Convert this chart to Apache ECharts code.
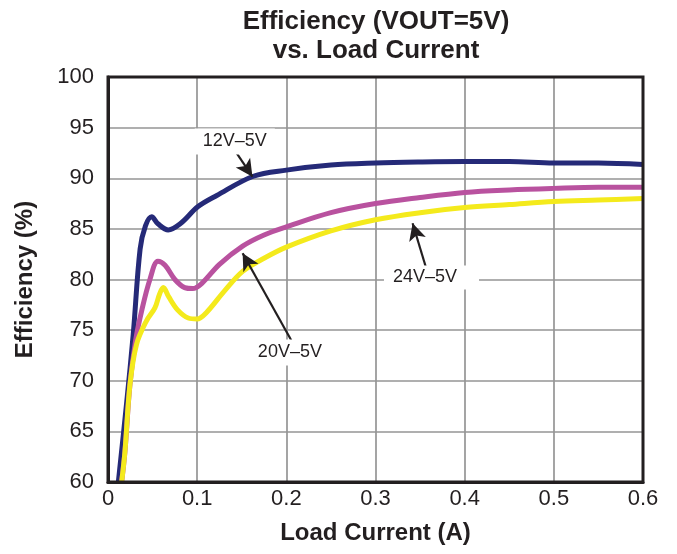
<!DOCTYPE html>
<html>
<head>
<meta charset="utf-8">
<script src="https://cdn.jsdelivr.net/npm/echarts@6/dist/echarts.min.js"></script>
<style>
  html, body { margin: 0; padding: 0; background: #ffffff; }
  #chart { width: 677px; height: 554px; }
</style>
</head>
<body>
<div id="chart"></div>
<script>
// load current (A) / efficiency (%)
const current12 = [0.0116, 0.021, 0.0283, 0.036, 0.042, 0.049, 0.056, 0.0675, 0.081, 0.101, 0.122, 0.163, 0.2, 0.25, 0.3, 0.35, 0.4, 0.45, 0.5, 0.55, 0.6];
const eff12 = [60, 67.9, 74.6, 83, 85.3, 86.2, 85.5, 84.9, 85.5, 87.2, 88.3, 90.2, 90.8, 91.3, 91.5, 91.6, 91.65, 91.65, 91.5, 91.5, 91.35];

const current20 = [0.0153, 0.019, 0.0246, 0.031, 0.038, 0.047, 0.056, 0.064, 0.075, 0.086, 0.095, 0.105, 0.125, 0.151, 0.175, 0.2, 0.25, 0.3, 0.35, 0.4, 0.45, 0.5, 0.55, 0.6];
const eff20 = [60, 63, 69.6, 74, 77, 80, 81.8, 81.4, 80, 79.2, 79.1, 79.6, 81.5, 83.3, 84.4, 85.2, 86.6, 87.5, 88.1, 88.6, 88.85, 89.0, 89.1, 89.1];

const current24 = [0.0153, 0.019, 0.0246, 0.032, 0.043, 0.0526, 0.058, 0.062, 0.068, 0.078, 0.09, 0.1, 0.11, 0.13, 0.151, 0.175, 0.2, 0.25, 0.3, 0.35, 0.4, 0.45, 0.5, 0.55, 0.6];
const eff24 = [60, 63, 69.6, 73.6, 75.9, 77.2, 78.6, 79.2, 78.3, 77, 76.2, 76.1, 76.7, 78.8, 80.8, 82.1, 83.2, 84.8, 85.9, 86.6, 87.1, 87.4, 87.7, 87.85, 88.0];

const xTicks = [0, 0.1, 0.2, 0.3, 0.4, 0.5, 0.6];
const yTicks = [60, 65, 70, 75, 80, 85, 90, 95, 100];

// annotation: label text, label position, arrow start, arrow tip (data units)
const notes = [
  { text: "12V\u20135V", at: [0.1422, 93.64], from: [0.1403, 92.99], to: [0.162, 90.16], pad: [4, 8, 4, 8] },
  { text: "20V\u20135V", at: [0.204, 72.8], from: [0.2055, 74.0], to: [0.151, 82.6], pad: [4, 8, 4, 8] },
  { text: "24V\u20135V", at: [0.3628, 80.2], from: [0.3566, 81.18], to: [0.3416, 85.55], pad: [3, 22, 3, 9] }
];

const FONT = "Liberation Sans";
const pairs = (xs, ys) => xs.map((x, i) => [x, ys[i]]);

const chart = echarts.init(document.getElementById("chart"));

const lineSeries = (name, xs, ys, color) => ({
  name,
  type: "line",
  data: pairs(xs, ys),
  smooth: 0.35,
  showSymbol: false,
  lineStyle: { color, width: 5 },
  z: 3
});

const option = {
  backgroundColor: "#ffffff",
  animation: false,
  title: {
    text: "Efficiency (VOUT=5V)\nvs. Load Current",
    left: 371,
    top: 2,
    textAlign: "center",
    textStyle: {
      fontFamily: FONT,
      fontSize: 26,
      fontWeight: "bold",
      color: "#231f20",
      lineHeight: 29
    }
  },
  grid: { left: 108, right: 34, top: 77, bottom: 72 },
  xAxis: {
    type: "value",
    min: 0,
    max: 0.6,
    interval: 0.1,
    name: "Load Current (A)",
    nameLocation: "middle",
    nameGap: 39,
    nameTextStyle: { fontFamily: FONT, fontSize: 24, fontWeight: "bold", color: "#231f20" },
    axisLine: { show: true, lineStyle: { color: "#231f20", width: 3 } },
    axisTick: { show: false },
    axisLabel: {
      fontFamily: FONT, fontSize: 22, color: "#231f20", margin: 6,
      formatter: v => xTicks.includes(+v.toFixed(1)) ? String(+v.toFixed(1)) : ""
    },
    splitLine: { show: true, lineStyle: { color: "#959595", width: 1.7 } }
  },
  yAxis: {
    type: "value",
    min: 60,
    max: 100,
    interval: 5,
    name: "Efficiency (%)",
    nameLocation: "middle",
    nameGap: 71,
    nameTextStyle: { fontFamily: FONT, fontSize: 24, fontWeight: "bold", color: "#231f20" },
    axisLine: { show: true, lineStyle: { color: "#231f20", width: 3 } },
    axisTick: { show: false },
    axisLabel: {
      fontFamily: FONT, fontSize: 22, color: "#231f20", margin: 14,
      formatter: v => yTicks.includes(v) ? String(v) : ""
    },
    splitLine: { show: true, lineStyle: { color: "#959595", width: 1.7 } }
  },
  series: [
    lineSeries("12V-5V", current12, eff12, "#252a78"),
    lineSeries("20V-5V", current20, eff20, "#b9529f"),
    lineSeries("24V-5V", current24, eff24, "#f4ea1c"),
    {
      // arrows and labels
      type: "line",
      data: [],
      silent: true,
      z: 5,
      markLine: {
        silent: true,
        symbol: ["none", "arrow"],
        symbolSize: [13, 17],
        label: { show: false },
        lineStyle: { color: "#231f20", width: 2.2, type: "solid" },
        data: notes.map(n => [{ coord: n.from }, { coord: n.to }])
      },
      markPoint: {
        silent: true,
        symbol: "rect",
        symbolSize: 0,
        data: notes.map(n => ({
          name: n.text,
          coord: n.at,
          label: {
            show: true,
            fontFamily: FONT,
            fontSize: 18,
            color: "#231f20",
            backgroundColor: "#ffffff",
            padding: n.pad,
            formatter: p => p.name
          }
        }))
      }
    }
  ]
};

chart.setOption(option);

// thick frame on top and right like the reference
const tl = chart.convertToPixel({ gridIndex: 0 }, [0, 100]);
const br = chart.convertToPixel({ gridIndex: 0 }, [0.6, 60]);
chart.setOption({
  graphic: [{
    type: "rect",
    shape: { x: tl[0], y: tl[1], width: br[0] - tl[0], height: br[1] - tl[1] },
    style: { fill: "none", stroke: "#231f20", lineWidth: 3 },
    silent: true,
    z: 10
  }]
});
</script>
</body>
</html>
